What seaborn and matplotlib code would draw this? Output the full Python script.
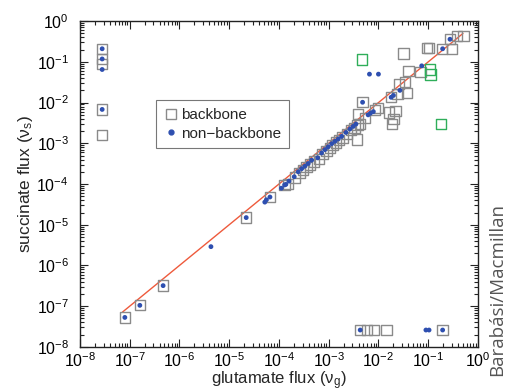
import numpy as np
import pandas as pd
import matplotlib
matplotlib.use("Agg")
import matplotlib.pyplot as plt
import seaborn as sns
from matplotlib.lines import Line2D
from matplotlib.ticker import LogLocator, LogFormatterMathtext, NullFormatter

sns.set_style("ticks")
plt.rcParams['font.family'] = ['Liberation Sans', 'DejaVu Sans']
plt.rcParams['mathtext.fontset'] = 'custom'
plt.rcParams['mathtext.rm'] = 'Liberation Sans'
plt.rcParams['mathtext.it'] = 'Liberation Sans:italic'

# backbone reactions (gray open squares)
bb_x = [2.8e-8, 2.8e-8, 2.8e-8, 2.8e-8, 2.8e-8,
        8.0e-8, 1.6e-7, 4.7e-7, 2.2e-5, 6.6e-5, 1.3e-4,
        1.5e-4, 2.1e-4, 2.6e-4, 3.0e-4, 3.6e-4, 4.2e-4, 5.0e-4, 6.3e-4, 7.5e-4, 9.0e-4,
        1.05e-3, 1.2e-3, 1.4e-3, 1.6e-3, 1.9e-3, 2.3e-3, 2.8e-3, 3.3e-3, 3.8e-3, 4.3e-3,
        3.7e-3, 3.9e-3, 5.4e-3, 8.6e-3, 9.9e-3, 4.8e-3,
        0.0165, 0.022, 0.020, 0.019, 0.018, 0.024, 0.026, 0.034, 0.037, 0.040, 0.032,
        0.070, 0.096, 0.104, 0.19, 0.30, 0.274, 0.38, 0.51,
        4.3e-3, 5.9e-3, 8.2e-3, 0.0145, 0.195]
bb_y = [0.21, 0.118, 0.09, 0.0068, 0.0016,
        5.3e-8, 1.05e-7, 3.2e-7, 1.5e-5, 4.8e-5, 9.5e-5,
        1.0e-4, 1.45e-4, 1.9e-4, 2.2e-4, 2.6e-4, 3.0e-4, 3.6e-4, 4.2e-4, 5.5e-4, 6.5e-4,
        7.8e-4, 9.0e-4, 1.05e-3, 1.2e-3, 1.4e-3, 1.7e-3, 2.1e-3, 2.4e-3, 2.8e-3, 3.0e-3,
        1.25e-3, 5.3e-3, 4.2e-3, 6.6e-3, 7.3e-3, 0.0102,
        5.7e-3, 6.3e-3, 4.0e-3, 3.0e-3, 0.0135, 0.016, 0.0286, 0.0325, 0.0175, 0.059, 0.16,
        0.057, 0.22, 0.22, 0.21, 0.21, 0.36, 0.43, 0.43,
        2.6e-8, 2.6e-8, 2.6e-8, 2.6e-8, 2.6e-8]

# backbone reactions drawn in green
gr_x = [4.6e-3, 0.108, 0.111, 0.18]
gr_y = [0.115, 0.065, 0.049, 0.003]

# non-backbone reactions (blue dots)
nb_x = [2.8e-8, 2.8e-8, 2.8e-8, 2.8e-8,
        8.0e-8, 1.6e-7, 4.7e-7, 4.3e-6, 2.2e-5, 5.2e-5, 5.6e-5, 6.6e-5, 1.12e-4, 1.3e-4,
        1.38e-4, 1.59e-4, 2.03e-4, 2.44e-4, 2.86e-4, 3.33e-4, 3.88e-4, 4.54e-4, 6.0e-4, 7.2e-4,
        8.4e-4, 9.8e-4, 1.15e-3, 1.34e-3, 1.56e-3, 1.82e-3, 2.22e-3, 2.67e-3, 3.11e-3, 3.53e-3,
        6.2e-3, 6.9e-3, 7.9e-3, 4.8e-3, 0.018, 0.020, 0.027, 0.074, 0.195, 0.274,
        6.6e-3, 0.010,
        4.3e-3, 0.09, 0.104, 0.195]
nb_y = [0.21, 0.118, 0.065, 0.0068,
        5.3e-8, 1.05e-7, 3.2e-7, 2.9e-6, 1.5e-5, 3.6e-5, 4.1e-5, 4.8e-5, 7.9e-5, 9.5e-5,
        9.8e-5, 1.18e-4, 1.51e-4, 2.0e-4, 2.38e-4, 2.75e-4, 3.2e-4, 3.85e-4, 4.4e-4, 5.8e-4,
        7.0e-4, 8.2e-4, 9.8e-4, 1.12e-3, 1.28e-3, 1.48e-3, 1.85e-3, 2.25e-3, 2.6e-3, 2.97e-3,
        5.0e-3, 5.5e-3, 6.0e-3, 0.0102, 0.0135, 0.015, 0.020, 0.08, 0.21, 0.36,
        0.05, 0.05,
        2.6e-8, 2.6e-8, 2.6e-8, 2.6e-8]

# fit line y = x
line_x = [7.2e-8, 0.5]
line_y = [7.2e-8, 0.5]

df_bb = pd.DataFrame({'glu': bb_x, 'suc': bb_y})
df_gr = pd.DataFrame({'glu': gr_x, 'suc': gr_y})
df_nb = pd.DataFrame({'glu': nb_x, 'suc': nb_y})
df_line = pd.DataFrame({'glu': line_x, 'suc': line_y})

fig, ax = plt.subplots(figsize=(5.09, 3.92), dpi=100)
fig.subplots_adjust(left=0.157, right=0.939, top=0.946, bottom=0.115)

ax.set_xscale('log')
ax.set_yscale('log')

sns.lineplot(data=df_line, x='glu', y='suc', ax=ax, color='#ee5a3c', lw=1.0, zorder=2)
sns.scatterplot(data=df_bb, x='glu', y='suc', ax=ax, marker='s', s=55,
                facecolor='none', edgecolor='#8a8a8a', linewidth=1.0, zorder=3)
sns.scatterplot(data=df_gr, x='glu', y='suc', ax=ax, marker='s', s=55,
                facecolor='none', edgecolor='#2fae5a', linewidth=1.0, zorder=3)
sns.scatterplot(data=df_nb, x='glu', y='suc', ax=ax, marker='o', s=12,
                color='#2e4fb0', edgecolor='none', zorder=4)

ax.set_xlim(1e-8, 1)
ax.set_ylim(1e-8, 1)

for axis in (ax.xaxis, ax.yaxis):
    axis.set_major_locator(LogLocator(base=10, numticks=20))
    axis.set_major_formatter(LogFormatterMathtext())
    axis.set_minor_locator(LogLocator(base=10, subs=np.arange(2, 10), numticks=20))
    axis.set_minor_formatter(NullFormatter())

ax.tick_params(which='both', direction='in', top=True, right=True, width=0.8, colors='#222222')
ax.tick_params(which='major', length=6, labelsize=11.5, labelcolor='black')
ax.tick_params(axis='x', which='major', pad=3)
ax.tick_params(axis='y', which='major', pad=8)
ax.tick_params(which='minor', length=3)
for sp in ax.spines.values():
    sp.set_linewidth(1.0)
    sp.set_color('#222222')

ax.set_xlabel(r'glutamate flux (ν$_{\rm g}$)', fontsize=12, labelpad=0)
ax.set_ylabel(r'succinate flux (ν$_{\rm s}$)', fontsize=12.5, labelpad=1)

handles = [Line2D([], [], marker='s', ls='none', markersize=7, markerfacecolor='none',
                  markeredgecolor='#8a8a8a', markeredgewidth=1.0),
           Line2D([], [], marker='o', ls='none', markersize=3.5, color='#2e4fb0')]
leg = ax.legend(handles, ['backbone', 'non\u2212backbone'], loc='upper left',
                bbox_to_anchor=(0.19, 0.757), fontsize=11, frameon=True, fancybox=False,
                edgecolor='#555555', handletextpad=0.2, handlelength=1.0,
                borderpad=0.5, labelspacing=0.3, borderaxespad=0)
leg.get_frame().set_linewidth(0.8)

fig.text(0.977, 0.262, 'Barabási/Macmillan', rotation=90, ha='center', va='center',
         fontsize=13.5, color='#555555', family=['Open Sans', 'DejaVu Sans'])

fig.savefig('out.png', dpi=100)
